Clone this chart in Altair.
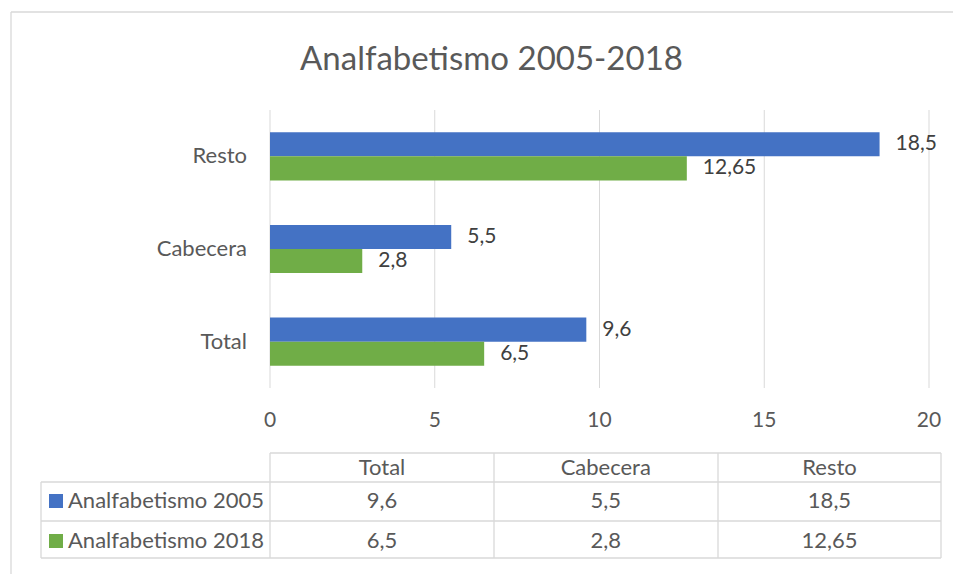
import altair as alt
import pandas as pd

# ---- data ----
categories = ["Total", "Cabecera", "Resto"]
series = ["Analfabetismo 2005", "Analfabetismo 2018"]
values_2005 = [9.6, 5.5, 18.5]
values_2018 = [6.5, 2.8, 12.65]
x_ticks = [0, 5, 10, 15, 20]
colors = ["#4472C4", "#70AD47"]
title_text = "Analfabetismo 2005-2018"

FONT = "Lato"
TXT = "#595959"
LBL = "#404040"
GRID = "#d9d9d9"
FS = 21
FS2 = 22


def fmt(v):
    return f"{v:g}".replace(".", ",")


rows = []
for i, c in enumerate(categories):
    for s, vals in zip(series, [values_2005, values_2018]):
        rows.append({"cat": c, "ser": s, "v": vals[i], "lbl": fmt(vals[i])})
df = pd.DataFrame(rows)
ticks_df = pd.DataFrame({"t": x_ticks, "lbl": [str(t) for t in x_ticks]})
cat_df = pd.DataFrame({"cat": categories})
ser_df = pd.DataFrame({"ser": series})
one = pd.DataFrame({"a": [0]})

# ---- scales (view coordinates) ----
xs = alt.Scale(domain=[0, 20], range=[262, 921], nice=False, zero=True)
ys = alt.Scale(domain=categories[::-1], range=[102, 380], paddingInner=0.48, paddingOuter=0.24)
off = alt.Scale(domain=series)
col_scale = alt.Scale(domain=categories, range=[374, 821.5], type="point", padding=0)
row_scale = alt.Scale(domain=series, range=[493, 533], type="point", padding=0)
color = alt.Color("ser:N", scale=alt.Scale(domain=series, range=colors), legend=None)

grid = alt.Chart(ticks_df).mark_rule(color=GRID, strokeWidth=1).encode(
    x=alt.X("t:Q", scale=xs, axis=None), y=alt.value(102), y2=alt.value(380)
)
tick_lbl = alt.Chart(ticks_df).mark_text(font=FONT, fontSize=FS, color=TXT, baseline="middle").encode(
    x=alt.X("t:Q", scale=xs, axis=None), y=alt.value(413), text="lbl:N"
)
bars = alt.Chart(df).mark_bar().encode(
    x=alt.X("v:Q", scale=xs, axis=None),
    y=alt.Y("cat:N", scale=ys, axis=None),
    yOffset=alt.YOffset("ser:N", scale=off),
    color=color,
)
val_lbl = alt.Chart(df).mark_text(font=FONT, fontSize=FS, color=LBL, align="left", baseline="middle", dx=16).encode(
    x=alt.X("v:Q", scale=xs, axis=None),
    y=alt.Y("cat:N", scale=ys, axis=None),
    yOffset=alt.YOffset("ser:N", scale=off),
    text="lbl:N",
)
cat_lbl = alt.Chart(cat_df).mark_text(font=FONT, fontSize=FS2, color=TXT, align="right", baseline="middle").encode(
    x=alt.value(239), y=alt.Y("cat:N", scale=ys, axis=None), text="cat:N"
)
title = alt.Chart(one).mark_text(
    font=FONT, fontSize=33, color=TXT, align="center", baseline="alphabetic", text=title_text
).encode(x=alt.value(483.5), y=alt.value(62))

tbl_head = alt.Chart(cat_df).mark_text(font=FONT, fontSize=FS2, color=TXT, baseline="middle").encode(
    x=alt.X("cat:N", scale=col_scale, axis=None), y=alt.value(460), text="cat:N"
)
tbl_vals = alt.Chart(df).mark_text(font=FONT, fontSize=FS2, color=TXT, baseline="middle").encode(
    x=alt.X("cat:N", scale=col_scale, axis=None),
    y=alt.Y("ser:N", scale=row_scale, axis=None),
    text="lbl:N",
)
leg_sq = alt.Chart(ser_df).mark_square(size=196, opacity=1).encode(
    x=alt.value(48), y=alt.Y("ser:N", scale=row_scale, axis=None), color=color
)
leg_txt = alt.Chart(ser_df).mark_text(font=FONT, fontSize=FS2, color=TXT, align="left", baseline="middle").encode(
    x=alt.value(60), y=alt.Y("ser:N", scale=row_scale, axis=None), text="ser:N"
)


def hline(x1, x2, y):
    return alt.Chart(one).mark_rule(color=GRID, strokeWidth=1.3).encode(
        x=alt.value(x1), x2=alt.value(x2), y=alt.value(y)
    )


def vline(x, y1, y2):
    return alt.Chart(one).mark_rule(color=GRID, strokeWidth=1.3).encode(
        x=alt.value(x), y=alt.value(y1), y2=alt.value(y2)
    )


lines = [
    hline(262, 933, 445),
    hline(33, 933, 474),
    hline(33, 933, 513),
    hline(33, 933, 550),
    vline(33, 474, 550),
    vline(262, 445, 550),
    vline(486, 445, 550),
    vline(710, 445, 550),
    vline(933, 445, 550),
    hline(3, 945, 4),
    vline(3, 4, 566),
]

chart = alt.layer(
    *lines, grid, tick_lbl, bars, val_lbl, cat_lbl, title, tbl_head, tbl_vals, leg_sq, leg_txt
).resolve_scale(x="independent", y="independent", yOffset="independent").properties(
    width=945, height=566, autosize=alt.AutoSizeParams(type="none"), padding=0
).configure_view(stroke=None)

chart.save("out.html", embed_options={"renderer": "svg", "actions": False})
